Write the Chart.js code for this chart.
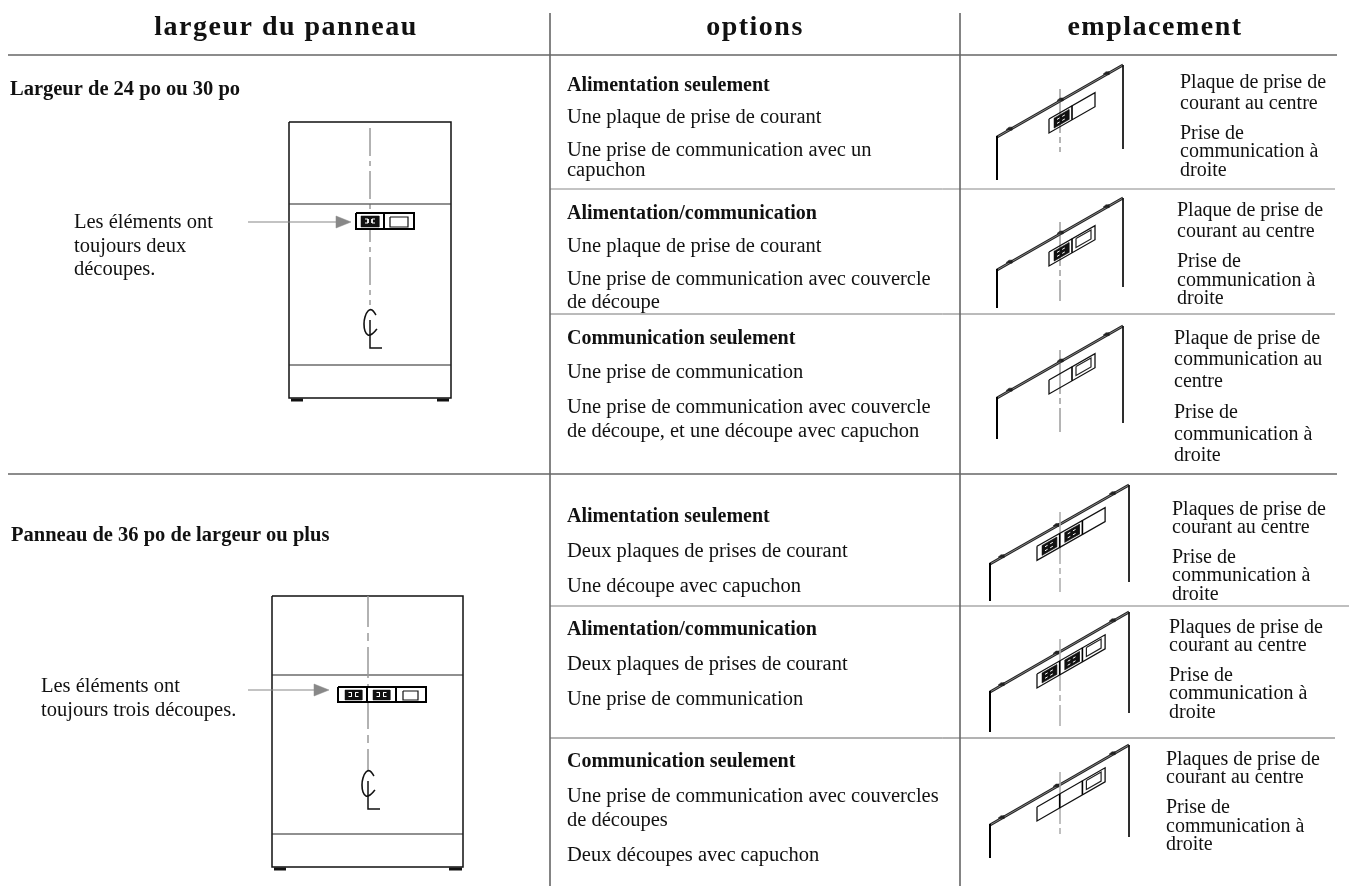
<!DOCTYPE html>
<html lang="fr">
<head>
<meta charset="utf-8">
<title>largeur du panneau</title>
<script src="https://cdn.jsdelivr.net/npm/chart.js@4"></script>
<style>
    html, body { margin: 0; padding: 0; background: #fff; }
    canvas { display: block; }
</style>
</head>
<body>
<canvas id="sheet" width="1349" height="886"></canvas>
<script>
// texts
const headerLabels = ['largeur du panneau', 'options', 'emplacement'];
const widthTitles = ['Largeur de 24 po ou 30 po', 'Panneau de 36 po de largeur ou plus'];
const panelNotes = [
    ['Les éléments ont', 'toujours deux', 'découpes.'],
    ['Les éléments ont', 'toujours trois découpes.']
];
const optionTitles = [
    'Alimentation seulement', 'Alimentation/communication', 'Communication seulement',
    'Alimentation seulement', 'Alimentation/communication', 'Communication seulement'
];
const optionLines = [
    ['Une plaque de prise de courant', 'Une prise de communication avec un', 'capuchon'],
    ['Une plaque de prise de courant', 'Une prise de communication avec couvercle', 'de découpe'],
    ['Une prise de communication', 'Une prise de communication avec couvercle', 'de découpe, et une découpe avec capuchon'],
    ['Deux plaques de prises de courant', 'Une découpe avec capuchon'],
    ['Deux plaques de prises de courant', 'Une prise de communication'],
    ['Une prise de communication avec couvercles', 'de découpes', 'Deux découpes avec capuchon']
];
const locationLines = [
    ['Plaque de prise de', 'courant au centre', 'Prise de', 'communication à', 'droite'],
    ['Plaque de prise de', 'courant au centre', 'Prise de', 'communication à', 'droite'],
    ['Plaque de prise de', 'communication au', 'centre', 'Prise de', 'communication à', 'droite'],
    ['Plaques de prise de', 'courant au centre', 'Prise de', 'communication à', 'droite'],
    ['Plaques de prise de', 'courant au centre', 'Prise de', 'communication à', 'droite'],
    ['Plaques de prise de', 'courant au centre', 'Prise de', 'communication à', 'droite']
];

// text baselines, one list per row above
const headerX = [286, 755, 1155];
const headerY = 35;
const widthTitleX = [10, 11];
const widthTitleY = [95, 541];
const optionX = 567;
const optionTitleY = [91, 219, 344, 522, 635, 767];
const optionLineY = [
    [123, 156, 176], [252, 285, 308], [378, 413, 437],
    [557, 592], [670, 705], [802, 826, 861]
];
const locationX = [1180, 1177, 1174, 1172, 1169, 1166];
const locationY = [
    [88, 109, 139, 157, 176], [216, 237, 267, 286, 304], [344, 365, 387, 418, 440, 461],
    [515, 533, 563, 581, 600], [633, 651, 681, 699, 718], [765, 783, 813, 832, 850]
];
const noteX = [74, 41];
const noteY = [[228, 252, 275], [692, 716]];

// rules of the table
const headerRuleY = 55;
const sectionRuleY = 474;
const rowRuleY = [189, 314, 606, 738];
const rowRuleEnd = [1335, 1335, 1349, 1335];
const rowRuleColor = ['#888', '#777', '#aaa', '#666'];
const columnRuleX = [550, 960];

// front views: outer box, shelves, feet, centre line, plate, arrow
const frontLeft = [289, 272];
const frontRight = [451, 463];
const frontTop = [122, 596];
const frontBottom = [398, 867];
const frontShelves = [[204, 365], [675, 834]];
const frontFeet = [[[291, 303], [437, 449]], [[274, 286], [449, 462]]];
const centreX = [370, 368];
const centreStart = [128, 596];
const centreEnd = [305, 771];
const symbolY = [334, 795];
const plateLeft = [356, 338];
const plateRight = [414, 426];
const plateTop = [213, 687];
const plateBottom = [229, 702];
const plateDividers = [[384], [367, 396]];
const plateSockets = [[[361, 379]], [[345, 362], [373, 390]]];
const plateBlanks = [[390, 408], [403, 418]];
const arrowStart = [248, 248];
const arrowTip = [351, 329];
const arrowBase = [336, 314];
const arrowY = [222, 690];

// perspective views, three rows for each panel size
const isoLeftX = [997, 990];
const isoRightX = [1123, 1129];
const isoLeftY = [[137, 270, 398], [564, 692, 825]];
const isoRightY = [[65, 198, 326], [485, 612, 745]];
const isoPostLeftEnd = [[180, 308, 439], [601, 732, 858]];
const isoPostRightEnd = [[149, 287, 423], [582, 713, 837]];
const isoCentreDx = [63, 70];
const isoCentreTop = [[89, 222, 350], [512, 639, 772]];
const isoCentreEnd = [[152, 301, 432], [592, 726, 835]];
const isoBumps = [[12, 63, 109], [11, 66, 122]];
const isoPlateDx = [52, 47];
const isoPlateDrop = [11.7, 9];
const isoPlateHeight = [14, 14];
const isoSlotWidth = [23, 22.7];
const isoSlots = [
    [['socket', 'blank'], ['socket', 'cover'], ['blank', 'cover']],
    [['socket', 'socket', 'blank'], ['socket', 'socket', 'cover'], ['blank', 'blank', 'cover']]
];

const datasets = [];

function addLine(points, color, width, extra) {
    datasets.push(Object.assign({
        data: points.map(p => ({ x: p[0], y: p[1] })),
        showLine: true,
        pointRadius: 0,
        borderColor: color,
        borderWidth: width,
        borderCapStyle: 'butt',
        tension: 0,
        fill: false,
        order: -datasets.length
    }, extra || {}));
}

function addShape(points, color) {
    const closed = points.concat([points[0]]);
    addLine(closed, color, 0.5, { fill: 'shape', backgroundColor: color });
}

// table rules
addLine([[8, headerRuleY], [1337, headerRuleY]], '#666', 1.6);
addLine([[8, sectionRuleY], [1337, sectionRuleY]], '#666', 1.6);
rowRuleY.forEach((y, i) => addLine([[550, y], [rowRuleEnd[i], y]], rowRuleColor[i], i === 2 ? 1.5 : 1));
columnRuleX.forEach(x => addLine([[x, 13], [x, 886]], '#666', 1.6));

// front views
frontLeft.forEach((left, i) => {
    const right = frontRight[i], top = frontTop[i], bottom = frontBottom[i];
    addLine([[left, top], [right, top], [right, bottom], [left, bottom], [left, top]], '#111', 1.5);
    frontShelves[i].forEach(y => addLine([[left, y], [right, y]], '#222', 1.1));
    frontFeet[i].forEach(f => addLine([[f[0], bottom + 2], [f[1], bottom + 2]], '#111', 3));

    if (i === 0) {
        addLine([[centreX[i], centreStart[i]], [centreX[i], centreEnd[i]]], '#666', 1, { borderDash: [28, 5, 5, 5] });
    } else {
        addLine([[centreX[i], centreStart[i]], [centreX[i], centreEnd[i]]], '#999', 1.5, { borderDash: [31, 6, 8, 6] });
    }

    // the C and the L of the centre line mark
    const cx = centreX[i], sy = symbolY[i];
    addLine([[cx + 6, sy - 19], [cx + 2, sy - 24], [cx - 2, sy - 23], [cx - 5, sy - 17], [cx - 6, sy - 10], [cx - 5, sy - 3], [cx - 2, sy + 1], [cx + 2, sy], [cx + 7, sy - 5]], '#111', 1.6, { tension: 0.4 });
    addLine([[cx, sy - 14], [cx, sy + 14], [cx + 12, sy + 14]], '#111', 1.5);

    // plate
    const pl = plateLeft[i], pr = plateRight[i], pt = plateTop[i], pb = plateBottom[i];
    addShape([[pl, pt], [pr, pt], [pr, pb], [pl, pb]], '#fff');
    addLine([[pl, pt], [pr, pt], [pr, pb], [pl, pb], [pl, pt]], '#000', 2);
    plateDividers[i].forEach(x => addLine([[x, pt], [x, pb]], '#000', 2));
    plateSockets[i].forEach(s => {
        addShape([[s[0], pt + 3], [s[1], pt + 3], [s[1], pb - 2], [s[0], pb - 2]], '#111');
        const mid = (s[0] + s[1]) / 2, my = (pt + pb) / 2;
        addLine([[mid - 5, my - 2], [mid - 2, my - 2], [mid - 2, my + 2], [mid - 5, my + 2]], '#fff', 1);
        addLine([[mid + 5, my - 2], [mid + 2, my - 2], [mid + 2, my + 2], [mid + 5, my + 2]], '#fff', 1);
    });
    const b = plateBlanks[i];
    addLine([[b[0], pt + 4], [b[1], pt + 4], [b[1], pb - 2], [b[0], pb - 2], [b[0], pt + 4]], '#111', 1.2);

    // arrow
    addLine([[arrowStart[i], arrowY[i]], [arrowBase[i], arrowY[i]]], '#888', 1.2);
    addShape([[arrowBase[i], arrowY[i] - 6], [arrowTip[i], arrowY[i]], [arrowBase[i], arrowY[i] + 6]], '#888');
});

// perspective views
isoLeftX.forEach((leftX, s) => {
    const rightX = isoRightX[s], span = rightX - leftX;
    isoLeftY[s].forEach((leftY, r) => {
        const rightY = isoRightY[s][r];
        const roof = dx => leftY + (rightY - leftY) * dx / span;
        addLine([[leftX, leftY], [rightX, rightY]], '#222', 2.6);
        addLine([[leftX, leftY], [rightX, rightY]], '#aaa', 0.7);
        addLine([[leftX, leftY - 1], [leftX, isoPostLeftEnd[s][r]]], '#000', 2);
        addLine([[rightX, rightY], [rightX, isoPostRightEnd[s][r]]], '#111', 1);
        isoBumps[s].forEach(dx => addShape([[leftX + dx - 3, roof(dx) - 0.5], [leftX + dx, roof(dx) - 3], [leftX + dx + 3, roof(dx) - 3], [leftX + dx + 3, roof(dx)]], '#222'));
        if (s === 0) {
            addLine([[leftX + isoCentreDx[s], isoCentreTop[s][r]], [leftX + isoCentreDx[s], isoCentreEnd[s][r]]], '#444', 0.8, { borderDash: [44, 4, 6, 4] });
        } else {
            addLine([[leftX + isoCentreDx[s], isoCentreTop[s][r]], [leftX + isoCentreDx[s], isoCentreEnd[s][r]]], '#aaa', 1.5, { borderDash: [52, 4, 6, 4] });
        }

        const slots = isoSlots[s][r], w = isoSlotWidth[s], h = isoPlateHeight[s], start = isoPlateDx[s];
        const top = dx => roof(start + dx) + isoPlateDrop[s];
        const x0 = leftX + start, total = w * slots.length;
        addLine([[x0, top(0)], [x0 + total, top(total)], [x0 + total, top(total) + h], [x0, top(0) + h], [x0, top(0)]], '#111', 1.3);
        slots.forEach((kind, k) => {
            const a = k * w, c = a + w;
            if (k > 0) addLine([[x0 + a, top(a)], [x0 + a, top(a) + h]], '#000', 1.6);
            if (kind === 'socket') {
                const p = a + 5, q = c - 3;
                addShape([[x0 + p, top(p) + 2], [x0 + q, top(q) + 2], [x0 + q, top(q) + h - 2], [x0 + p, top(p) + h - 2]], '#111');
                addLine([[x0 + p + 3, top(p + 3) + 5], [x0 + q - 3, top(q - 3) + 5]], '#fff', 1, { borderDash: [3, 3] });
                addLine([[x0 + p + 3, top(p + 3) + 9], [x0 + q - 3, top(q - 3) + 9]], '#fff', 1, { borderDash: [3, 3] });
            } else if (kind === 'cover') {
                const p = a + 4, q = c - 4;
                addLine([[x0 + p, top(p) + 2], [x0 + q, top(q) + 2], [x0 + q, top(q) + h - 3], [x0 + p, top(p) + h - 3], [x0 + p, top(p) + 2]], '#222', 1.2);
            }
        });
    });
});

const FONT = '"Liberation Serif", serif';

const sheetText = {
    id: 'sheetText',
    afterDraw(chart) {
        const ctx = chart.ctx;
        const put = (text, x, y, font, spacing, align) => {
            ctx.font = font;
            ctx.letterSpacing = spacing || '0px';
            ctx.textAlign = align || 'left';
            ctx.fillText(text, x, y);
        };
        ctx.save();
        ctx.fillStyle = '#111';
        ctx.textBaseline = 'alphabetic';
        headerLabels.forEach((t, i) => put(t, headerX[i], headerY, 'bold 28px ' + FONT, '1.5px', 'center'));
        widthTitles.forEach((t, i) => put(t, widthTitleX[i], widthTitleY[i], 'bold 20.5px ' + FONT));
        panelNotes.forEach((lines, i) => lines.forEach((t, k) => put(t, noteX[i], noteY[i][k], '20.5px ' + FONT)));
        optionTitles.forEach((t, i) => {
            put(t, optionX, optionTitleY[i], 'bold 20px ' + FONT);
            optionLines[i].forEach((line, k) => put(line, optionX, optionLineY[i][k], '20.5px ' + FONT));
            locationLines[i].forEach((line, k) => put(line, locationX[i], locationY[i][k], '20px ' + FONT));
        });
        ctx.restore();
    }
};

new Chart(document.getElementById('sheet'), {
    type: 'scatter',
    data: { datasets: datasets },
    options: {
        responsive: false,
        animation: false,
        layout: { padding: 0 },
        plugins: { legend: { display: false }, tooltip: { enabled: false } },
        scales: {
            x: { type: 'linear', min: 0, max: 1349, display: false },
            y: { type: 'linear', min: 0, max: 886, reverse: true, display: false }
        }
    },
    plugins: [sheetText]
});
</script>
</body>
</html>
